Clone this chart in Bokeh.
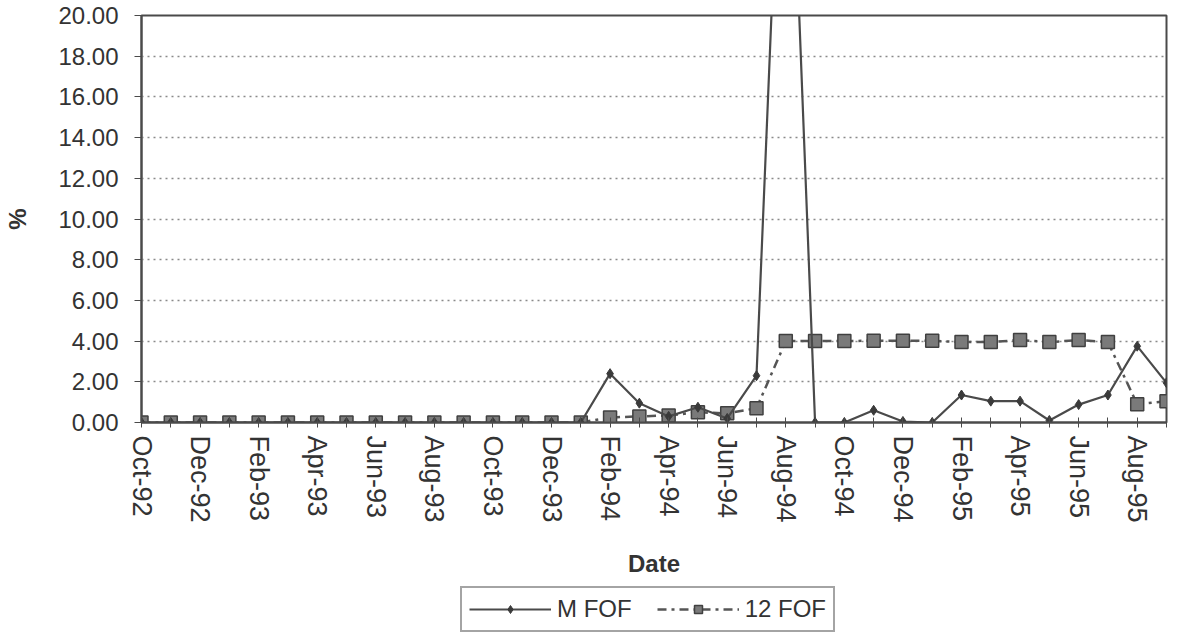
from bokeh.plotting import figure
from bokeh.layouts import column
from bokeh.models import (Range1d, FixedTicker, NumeralTickFormatter, Legend, LegendItem,
                          ColumnDataSource)
from bokeh.embed import file_html
from bokeh.resources import INLINE

months = ["Oct-92", "Nov-92", "Dec-92", "Jan-93", "Feb-93", "Mar-93", "Apr-93", "May-93",
          "Jun-93", "Jul-93", "Aug-93", "Sep-93", "Oct-93", "Nov-93", "Dec-93", "Jan-94",
          "Feb-94", "Mar-94", "Apr-94", "May-94", "Jun-94", "Jul-94", "Aug-94", "Sep-94",
          "Oct-94", "Nov-94", "Dec-94", "Jan-95", "Feb-95", "Mar-95", "Apr-95", "May-95",
          "Jun-95", "Jul-95", "Aug-95", "Sep-95"]

m_fof = [0, 0, 0, 0, 0, 0, 0, 0, 0, 0, 0, 0, 0, 0, 0, 0,
         2.40, 0.95, 0.30, 0.75, 0.20, 2.30, 37.0, 0.0,
         0.0, 0.60, 0.05, 0.0, 1.35, 1.05, 1.05, 0.10,
         0.88, 1.35, 3.75, 1.95]

fof_12 = [0, 0, 0, 0, 0, 0, 0, 0, 0, 0, 0, 0, 0, 0, 0, 0,
          0.25, 0.30, 0.35, 0.50, 0.45, 0.70, 4.00, 4.00,
          4.00, 4.02, 4.02, 4.02, 3.95, 3.95, 4.05, 3.95,
          4.05, 3.95, 0.90, 1.05]

y_ticks = [0, 2, 4, 6, 8, 10, 12, 14, 16, 18, 20]
series_names = ["M FOF", "12 FOF"]

idx = list(range(len(months)))
src = ColumnDataSource(dict(x=idx, m=m_fof, f=fof_12))

TXT = "#333333"
LINE = "#4a4a4a"
FONT = "Liberation Sans"

M_LINE = dict(line_color=LINE, line_width=2.2)
M_MARK = dict(marker="diamond", size=10, fill_color="#3a3a3a", line_color="#3a3a3a")
F_LINE = dict(line_color="#555555", line_width=2.5, line_dash="9 5 3 5")
F_MARK = dict(marker="square", size=13, fill_color="#7a7a7a", line_color="#404040", line_width=1.5)

p = figure(width=1179, height=580, output_backend="svg", toolbar_location=None,
           x_range=Range1d(0, len(months) - 1), y_range=Range1d(0, 20),
           min_border_left=141, min_border_right=13, min_border_top=15, min_border_bottom=158)
p.background_fill_color = "white"
p.border_fill_color = "white"
p.outline_line_color = LINE
p.outline_line_width = 2

p.line("x", "f", source=src, **F_LINE)
p.scatter("x", "f", source=src, **F_MARK)
p.line("x", "m", source=src, **M_LINE)
p.scatter("x", "m", source=src, **M_MARK)

# axes
p.xaxis.ticker = FixedTicker(ticks=idx)
p.xaxis.major_label_overrides = {i: (months[i] if i % 2 == 0 else "") for i in idx}
p.xaxis.major_label_orientation = "vertical"
p.xaxis.major_label_text_font = FONT
p.xaxis.major_label_text_font_size = "27px"
p.xaxis.major_label_text_color = TXT
p.xaxis.major_label_standoff = 8
p.xaxis.major_tick_in = 5
p.xaxis.major_tick_out = 5
p.xaxis.minor_tick_line_color = None
p.xaxis.axis_line_color = LINE
p.xaxis.axis_line_width = 2
p.xaxis.major_tick_line_color = LINE
p.xaxis.axis_label = "Date"
p.xaxis.axis_label_text_font = FONT
p.xaxis.axis_label_text_font_style = "bold"
p.xaxis.axis_label_text_font_size = "24px"
p.xaxis.axis_label_text_color = TXT
p.xaxis.axis_label_standoff = 24

p.yaxis.ticker = FixedTicker(ticks=y_ticks)
p.yaxis.formatter = NumeralTickFormatter(format="0.00")
p.yaxis.major_label_text_font = FONT
p.yaxis.major_label_text_font_size = "24px"
p.yaxis.major_label_text_color = TXT
p.yaxis.major_label_standoff = 16
p.yaxis.major_tick_in = 0
p.yaxis.major_tick_out = 7
p.yaxis.minor_tick_line_color = None
p.yaxis.axis_line_color = LINE
p.yaxis.axis_line_width = 2
p.yaxis.major_tick_line_color = LINE
p.yaxis.axis_label = "%"
p.yaxis.axis_label_text_font = FONT
p.yaxis.axis_label_text_font_style = "bold"
p.yaxis.axis_label_text_font_size = "24px"
p.yaxis.axis_label_text_color = TXT
p.yaxis.axis_label_standoff = 24

p.xgrid.grid_line_color = None
p.ygrid.grid_line_color = "#8a8a8a"
p.ygrid.grid_line_dash = "2 4"
p.ygrid.grid_line_width = 1.5

# legend strip below the chart (series drawn out of view, only legend shows)
lg = figure(width=1179, height=59, output_backend="svg", toolbar_location=None,
            x_range=Range1d(-200, -199), y_range=Range1d(-200, -199),
            min_border_left=0, min_border_right=0, min_border_top=0, min_border_bottom=0)
lg.axis.visible = False
lg.grid.visible = False
lg.outline_line_color = None
lg.background_fill_color = "white"
lg.border_fill_color = "white"
r1a = lg.line("x", "m", source=src, **M_LINE)
r1b = lg.scatter("x", "m", source=src, **M_MARK)
r2a = lg.line("x", "f", source=src, **F_LINE)
r2b = lg.scatter("x", "f", source=src, **F_MARK)

legend = Legend(items=[LegendItem(label=series_names[0], renderers=[r1a, r1b]),
                       LegendItem(label=series_names[1], renderers=[r2a, r2b])],
                orientation="horizontal", location=(319, 7))
legend.label_text_font = FONT
legend.label_text_font_size = "24px"
legend.label_text_color = TXT
legend.border_line_color = LINE
legend.border_line_width = 2
legend.background_fill_color = "white"
legend.glyph_width = 82
legend.spacing = 25
legend.padding = 7
legend.margin = 0
legend.label_standoff = 6
lg.add_layout(legend)

layout = column(p, lg, spacing=0)
open("out.html", "w").write(file_html(layout, INLINE))
